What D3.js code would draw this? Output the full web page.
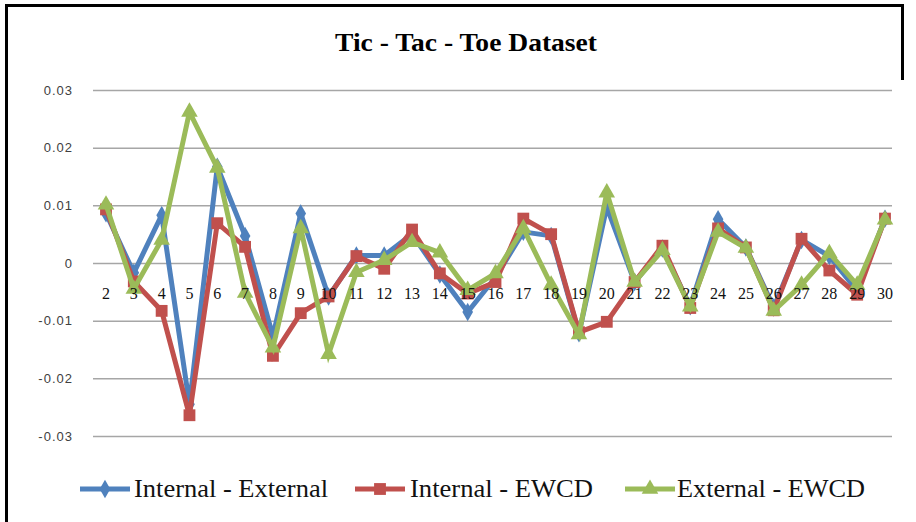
<!DOCTYPE html>
<html lang="en">
<head>
  <meta charset="UTF-8">
  <title>Tic - Tac - Toe Dataset</title>
  <script src="https://d3js.org/d3.v7.min.js"></script>
  <style>
    body { margin: 0; background: #fff; }
    svg { display: block; }
    .ytick text { font-family: "Liberation Sans", Arial, sans-serif; font-size: 13px; fill: #404040; letter-spacing: 1px; }
    .xlab { font-family: "Liberation Serif", "Times New Roman", serif; font-size: 16px; fill: #111; }
  </style>
</head>
<body>
  <div id="chart"></div>
  <script>
    const width = 916;
    const height = 522;

    const categories = ["2","3","4","5","6","7","8","9","10","11","12","13","14","15","16","17","18","19","20","21","22","23","24","25","26","27","28","29","30"];
    const internalExternal = [0.0086, -0.0017, 0.0083, -0.0245, 0.0167, 0.0047, -0.0127, 0.0086, -0.0058, 0.0013, 0.0013, 0.0050, -0.0020, -0.0085, -0.0025, 0.0054, 0.0047, -0.0122, 0.0097, -0.0033, 0.0025, -0.0075, 0.0076, 0.0027, -0.0077, 0.0040, 0.0012, -0.0048, 0.0077];
    const internalEWCD = [0.0093, -0.0032, -0.0083, -0.0264, 0.0069, 0.0028, -0.0161, -0.0087, -0.0058, 0.0012, -0.0010, 0.0058, -0.0018, -0.0053, -0.0033, 0.0077, 0.0050, -0.0120, -0.0102, -0.0033, 0.0030, -0.0078, 0.0060, 0.0027, -0.0082, 0.0042, -0.0013, -0.0055, 0.0077];
    const externalEWCD = [0.0101, -0.0045, 0.0040, 0.0262, 0.0165, -0.0052, -0.0147, 0.0060, -0.0158, -0.0016, 0.0005, 0.0036, 0.0018, -0.0047, -0.0018, 0.0060, -0.0038, -0.0124, 0.0122, -0.0033, 0.0022, -0.0076, 0.0054, 0.0026, -0.0083, -0.0038, 0.0017, -0.0038, 0.0075];
    const yTicks = [0.03, 0.02, 0.01, 0, -0.01, -0.02, -0.03];
    const yTickLabels = ["0.03", "0.02", "0.01", "0", "-0.01", "-0.02", "-0.03"];

    const series = [
      { name: "Internal - External", values: internalExternal, color: "#4F81BD", symbol: d3.symbolDiamond, size: 70, lx: 80, tx: 134, tw: 194 },
      { name: "Internal - EWCD", values: internalEWCD, color: "#C0504D", symbol: d3.symbolSquare, size: 100, lx: 355, tx: 410, tw: 183 },
      { name: "External - EWCD", values: externalEWCD, color: "#9BBB59", symbol: d3.symbolTriangle, size: 85, lx: 625, tx: 677, tw: 188 }
    ];

    const svg = d3.select("#chart").append("svg")
      .attr("width", width)
      .attr("height", height);

    // frame (image is cropped, so only part of it shows)
    svg.append("path")
      .attr("d", "M6.5,522 L6.5,5.5 L902.5,5.5 L902.5,80")
      .attr("fill", "none")
      .attr("stroke", "#000")
      .attr("stroke-width", 3);

    svg.append("text")
      .attr("x", 466)
      .attr("y", 51)
      .attr("text-anchor", "middle")
      .attr("textLength", 262)
      .attr("lengthAdjust", "spacingAndGlyphs")
      .style("font-family", "'Liberation Serif', 'Times New Roman', serif")
      .style("font-weight", "bold")
      .style("font-size", "25px")
      .style("fill", "#000")
      .text("Tic - Tac - Toe Dataset");

    const x = d3.scalePoint().domain(categories).range([106, 885]);
    const y = d3.scaleLinear().domain([-0.03, 0.03]).range([436, 90]);

    // gridlines + y labels
    const yAxis = svg.append("g")
      .attr("transform", "translate(93,0)")
      .call(d3.axisLeft(y)
        .tickValues(yTicks)
        .tickSize(-799)
        .tickPadding(20)
        .tickFormat((d, i) => yTickLabels[i]));
    yAxis.select(".domain").remove();
    yAxis.selectAll(".tick").attr("class", "tick ytick");
    yAxis.selectAll(".tick line").attr("stroke", "#a6a6a6").attr("stroke-width", 1.5);

    const line = d3.line()
      .x((d, i) => x(categories[i]))
      .y(d => y(d));

    series.forEach(s => {
      const g = svg.append("g");
      g.append("path")
        .datum(s.values)
        .attr("fill", "none")
        .attr("stroke", s.color)
        .attr("stroke-width", 5)
        .attr("stroke-linejoin", "miter")
        .attr("d", line);
      g.selectAll("path.mk")
        .data(s.values)
        .enter().append("path")
        .attr("class", "mk")
        .attr("fill", s.color)
        .attr("transform", (d, i) => `translate(${x(categories[i])},${y(d)})`)
        .attr("d", d3.symbol().type(s.symbol).size(s.size * 1.4));
    });

    // category labels sit below the zero line
    svg.append("g").selectAll("text")
      .data(categories)
      .enter().append("text")
      .attr("class", "xlab")
      .attr("x", d => x(d))
      .attr("y", 299)
      .attr("text-anchor", "middle")
      .text(d => d);

    // legend
    const legend = svg.append("g");
    series.forEach(s => {
      legend.append("line")
        .attr("x1", s.lx).attr("x2", s.lx + 50)
        .attr("y1", 489).attr("y2", 489)
        .attr("stroke", s.color)
        .attr("stroke-width", 5);
      legend.append("path")
        .attr("fill", s.color)
        .attr("transform", `translate(${s.lx + 25},489)`)
        .attr("d", d3.symbol().type(s.symbol).size(s.size * 1.4));
      legend.append("text")
        .attr("x", s.tx)
        .attr("y", 497)
        .attr("textLength", s.tw)
        .attr("lengthAdjust", "spacingAndGlyphs")
        .style("font-family", "'Liberation Serif', 'Times New Roman', serif")
        .style("font-size", "25px")
        .style("fill", "#111")
        .text(s.name);
    });
  </script>
</body>
</html>
